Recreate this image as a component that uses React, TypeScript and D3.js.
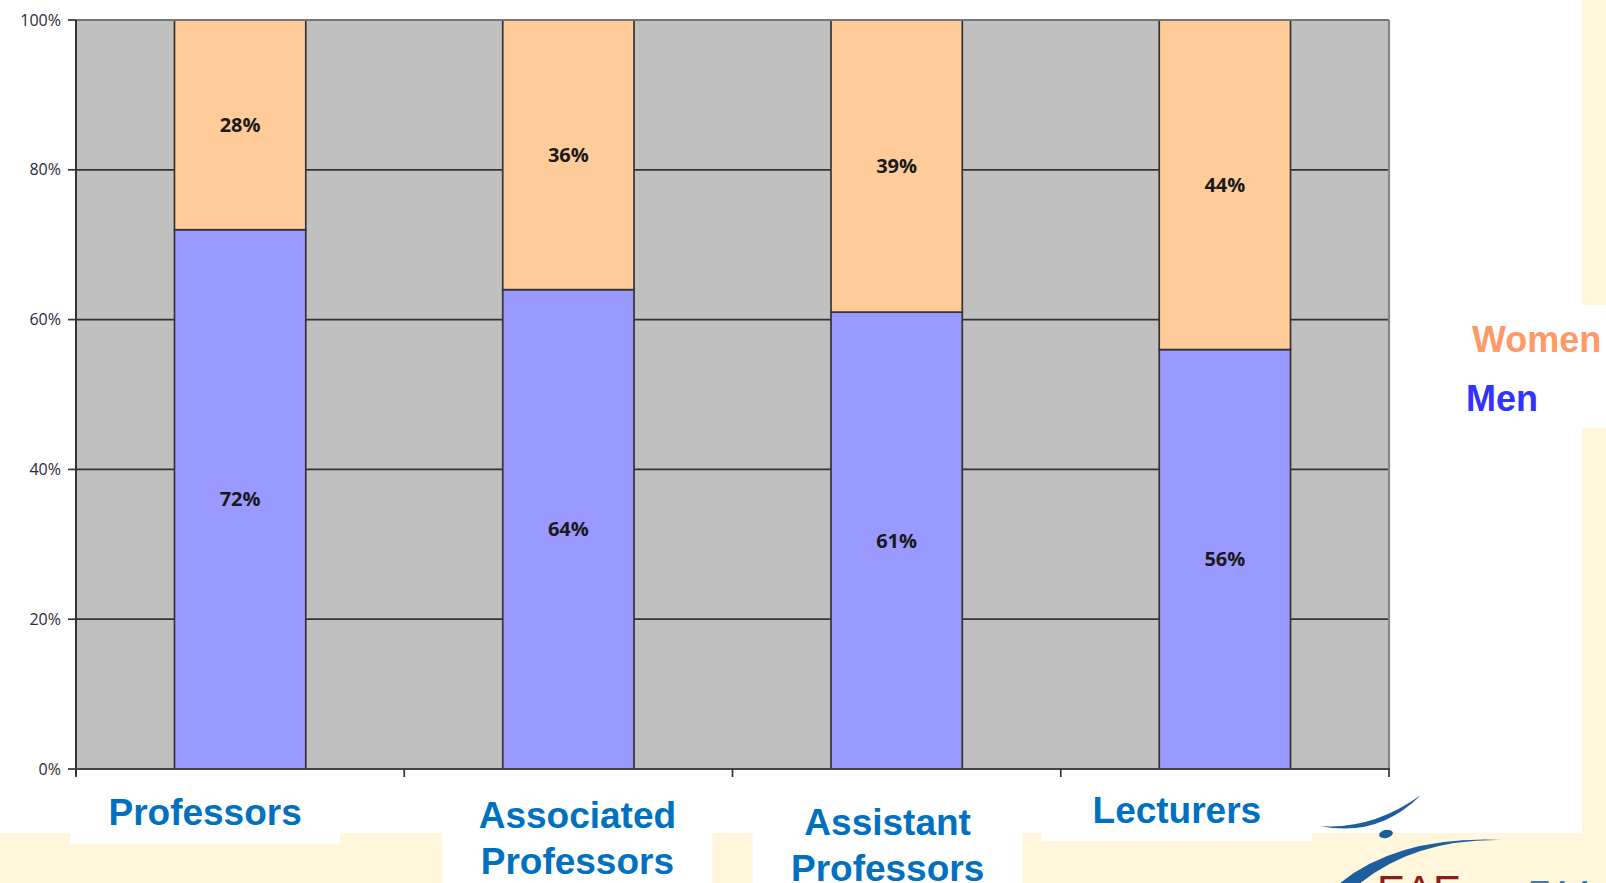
import React from 'react';
import * as d3 from 'd3';

// chart values
const categories = ['Professors', 'Associated Professors', 'Assistant Professors', 'Lecturers'];
const men = [72, 64, 61, 56];
const women = [28, 36, 39, 44];
const yTicks = [0, 20, 40, 60, 80, 100];
const categoryLines = [['Professors'], ['Associated', 'Professors'], ['Assistant', 'Professors'], ['Lecturers']];
const legendItems = [
  { key: 'women', label: 'Women', color: '#FF9966' },
  { key: 'men', label: 'Men', color: '#3333FF' },
];

const W = 1606;
const H = 883;
const M = { left: 76, right: 1389, top: 20, bottom: 769 };

// slide text boxes sit a little off the band centres
const labelLayout = [
  { dx: -35, y: 825, boxBottom: 844 },
  { dx: 9, y: 828, boxBottom: 890 },
  { dx: -9, y: 835, boxBottom: 890 },
  { dx: -48, y: 823, boxBottom: 841 },
];

const CREAM = '#FFF6DC';
const LABEL_FONT = '"Liberation Sans", Arial, sans-serif';
const NUM_FONT = '"Open Sans", "DejaVu Sans", sans-serif';

export default function App() {
  const rows = categories.map((c, i) => ({ category: c, men: men[i], women: women[i] }));
  const series = d3.stack<any>().keys(['men', 'women'])(rows);

  const x = d3.scaleBand<string>()
    .domain(categories)
    .range([M.left, M.right])
    .paddingInner(0.6)
    .paddingOuter(0.3);
  const y = d3.scaleLinear().domain([0, 100]).range([M.bottom, M.top]);
  const color: Record<string, string> = { men: '#9999FF', women: '#FFCC99' };

  const step = x.step();
  const boundaries = d3.range(categories.length + 1).map(i => M.left + i * step);

  return (
    <svg width={W} height={H} style={{ position: 'absolute', left: 0, top: 0, display: 'block' }}>
      {/* slide background */}
      <rect x={0} y={0} width={W} height={H} fill={CREAM} />
      <rect x={0} y={0} width={1582} height={833} fill="#fff" />
      <rect x={1582} y={305} width={W - 1582} height={123} fill="#fff" />
      {categories.map((c, i) => {
        const cx = (x(c) ?? 0) + x.bandwidth() / 2 + labelLayout[i].dx;
        return (
          <rect key={'box' + c} x={cx - 135} y={800} width={270}
            height={labelLayout[i].boxBottom - 800} fill="#fff" />
        );
      })}

      {/* plot area */}
      <rect x={M.left} y={M.top} width={M.right - M.left} height={M.bottom - M.top} fill="#C0C0C0" />

      {/* gridlines */}
      {yTicks.filter(t => t > 0 && t < 100).map(t => (
        <line key={'g' + t} x1={M.left} x2={M.right} y1={y(t)} y2={y(t)} stroke="#333" strokeWidth={1.7} />
      ))}

      {/* bars */}
      {series.map(s => (
        <g key={s.key}>
          {s.map((d, i) => (
            <rect key={i}
              x={x(categories[i])}
              y={y(d[1])}
              width={x.bandwidth()}
              height={y(d[0]) - y(d[1])}
              fill={color[s.key]}
              stroke="#333"
              strokeWidth={1.7} />
          ))}
        </g>
      ))}

      {/* plot border */}
      <line x1={M.left} x2={M.right} y1={M.top} y2={M.top} stroke="#777" strokeWidth={2.2} />
      <line x1={M.right} x2={M.right} y1={M.top} y2={M.bottom} stroke="#888" strokeWidth={2.2} />
      <line x1={M.left} x2={M.left} y1={M.top} y2={M.bottom + 7} stroke="#333" strokeWidth={2} />
      <line x1={M.left - 1} x2={M.right + 1} y1={M.bottom} y2={M.bottom} stroke="#444" strokeWidth={2} />

      {/* y axis ticks and labels */}
      {yTicks.map(t => (
        <g key={'yt' + t}>
          <line x1={M.left - 8} x2={M.left} y1={y(t)} y2={y(t)} stroke="#333" strokeWidth={1.7} />
          <text x={61} y={y(t)} dy="0.35em" textAnchor="end" fontFamily={NUM_FONT}
            fontSize={16} fill="#2a2a3a">{t}%</text>
        </g>
      ))}

      {/* x axis ticks between categories */}
      {boundaries.map((bx, i) => (
        <line key={'xt' + i} x1={bx} x2={bx} y1={M.bottom} y2={M.bottom + 8} stroke="#333" strokeWidth={1.7} />
      ))}

      {/* value labels */}
      {series.map(s => s.map((d, i) => (
        <text key={s.key + i}
          x={(x(categories[i]) ?? 0) + x.bandwidth() / 2}
          y={y((d[0] + d[1]) / 2)}
          dy="0.35em"
          textAnchor="middle"
          fontFamily={NUM_FONT}
          fontWeight="bold"
          fontSize={20}
          fill="#1a1a1a">{d[1] - d[0]}%</text>
      )))}

      {/* category labels */}
      {categories.map((c, i) => {
        const cx = (x(c) ?? 0) + x.bandwidth() / 2 + labelLayout[i].dx;
        return (
          <text key={'cl' + c} x={cx} y={labelLayout[i].y} textAnchor="middle"
            fontFamily={LABEL_FONT} fontWeight="bold" fontSize={37} fill="#0070C0">
            {categoryLines[i].map((ln, j) => (
              <tspan key={j} x={cx} dy={j === 0 ? 0 : 46}>{ln}</tspan>
            ))}
          </text>
        );
      })}

      {/* legend */}
      {legendItems.map((l, i) => (
        <text key={l.key} x={i === 0 ? 1472 : 1466} y={352 + i * 59}
          fontFamily={LABEL_FONT} fontWeight="bold" fontSize={36} fill={l.color}>{l.label}</text>
      ))}

      {/* logo, partly cut off by the slide edge */}
      <g fill="#1E5E9E">
        <path d="M1320,826 Q1378,838 1421,795 Q1372,830 1320,826 Z" />
        <ellipse cx={1386} cy={834} rx={7} ry={4} transform="rotate(-12 1386 834)" />
        <path d="M1332,890 Q1392,835 1503,840 Q1410,838 1352,890 Z" />
      </g>
      <text x={1377} y={905} fontFamily={LABEL_FONT} fontSize={42} fill="#8B1C1C">EAE</text>
      <text x={1528} y={904} fontFamily={LABEL_FONT} fontSize={34} fill="#4F74A8">EAA</text>
    </svg>
  );
}
